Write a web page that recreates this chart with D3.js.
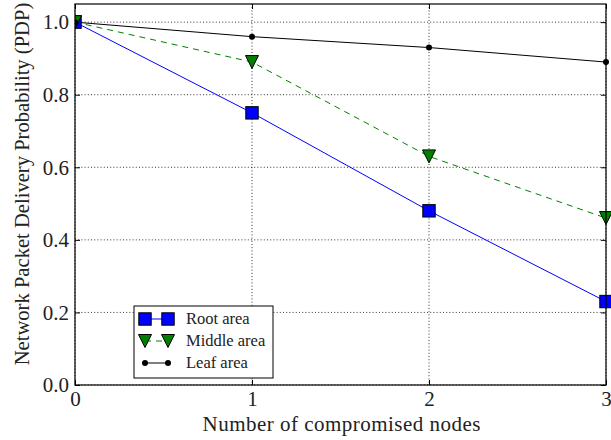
<!DOCTYPE html>
<html>
<head>
<meta charset="utf-8">
<script src="https://cdn.jsdelivr.net/npm/d3@7"></script>
<style>
  html, body { margin: 0; padding: 0; background: #fff; }
  svg { display: block; }
  text { font-family: "Liberation Serif", "DejaVu Serif", serif; fill: #222; }
</style>
</head>
<body>
<svg id="chart" width="611" height="440"></svg>
<script>
// Number of compromised nodes on the x axis
const nodes = [0, 1, 2, 3];
// Network packet delivery probability per attack location
const rootArea   = [1.00, 0.75, 0.48, 0.23];
const middleArea = [1.00, 0.89, 0.63, 0.46];
const leafArea   = [1.00, 0.96, 0.93, 0.89];
const xTicks = [0, 1, 2, 3];
const yTicks = [0.0, 0.2, 0.4, 0.6, 0.8, 1.0];
const seriesNames = ["Root area", "Middle area", "Leaf area"];

const svg = d3.select("#chart");
const W = 611, H = 440;
const m = { left: 75, right: 5, top: 4, bottom: 55 };
const x = d3.scaleLinear().domain([0, 3]).range([m.left, W - m.right]);
const y = d3.scaleLinear().domain([0, 1.05]).range([H - m.bottom, m.top]);

// clip region for the data marks
svg.append("defs").append("clipPath").attr("id", "plotclip")
  .append("rect").attr("x", m.left).attr("y", 0)
  .attr("width", W - m.left).attr("height", H - m.bottom);

// dotted grid
const grid = svg.append("g");
grid.selectAll("line.gx").data(xTicks).join("line")
  .attr("x1", d => x(d)).attr("x2", d => x(d))
  .attr("y1", y(1.05)).attr("y2", y(0))
  .attr("stroke", "#000").attr("stroke-width", 0.8).attr("stroke-dasharray", "1,2.2");
grid.selectAll("line.gy").data(yTicks).join("line")
  .attr("x1", x(0)).attr("x2", x(3))
  .attr("y1", d => y(d)).attr("y2", d => y(d))
  .attr("stroke", "#000").attr("stroke-width", 0.8).attr("stroke-dasharray", "1,2.2");

// axes with inward ticks on all four sides
const fontSize = 21;
const bottomAxis = d3.axisBottom(x).tickValues(xTicks).tickFormat(d3.format("d")).tickSizeInner(-5).tickSizeOuter(0).tickPadding(6);
const topAxis = d3.axisTop(x).tickValues(xTicks).tickFormat("").tickSizeInner(-5).tickSizeOuter(0);
const leftAxis = d3.axisLeft(y).tickValues(yTicks).tickFormat(d3.format(".1f")).tickSizeInner(-5).tickSizeOuter(0).tickPadding(6);
const rightAxis = d3.axisRight(y).tickValues(yTicks).tickFormat("").tickSizeInner(-5).tickSizeOuter(0);

function styleAxis(g) {
  g.select(".domain").remove();
  g.selectAll(".tick line").attr("stroke", "#000").attr("stroke-width", 1);
  g.selectAll(".tick text").attr("font-size", fontSize).attr("fill", "#222")
    .attr("font-family", "Liberation Serif, DejaVu Serif, serif");
}
svg.append("g").attr("transform", `translate(0,${y(0)})`).call(bottomAxis).call(styleAxis);
svg.append("g").attr("transform", `translate(0,${y(1.05)})`).call(topAxis).call(styleAxis);
svg.append("g").attr("transform", `translate(${x(0)},0)`).call(leftAxis).call(styleAxis);
svg.append("g").attr("transform", `translate(${x(3)},0)`).call(rightAxis).call(styleAxis);

// series lines and markers
const plot = svg.append("g").attr("clip-path", "url(#plotclip)");
const line = d3.line().x((d, i) => x(nodes[i])).y(d => y(d));

function drawMarker(g, kind, cx, cy) {
  if (kind === "square") {
    const h = 6.2;
    g.append("rect").attr("x", cx - h).attr("y", cy - h).attr("width", 2 * h).attr("height", 2 * h)
      .attr("fill", "#0000ff").attr("stroke", "#000").attr("stroke-width", 1);
  } else if (kind === "triangle") {
    const hw = 6.5, hh = 6.5;
    g.append("path").attr("d", `M${cx - hw},${cy - hh}L${cx + hw},${cy - hh}L${cx},${cy + hh}Z`)
      .attr("fill", "#008000").attr("stroke", "#000").attr("stroke-width", 1);
  } else {
    g.append("circle").attr("cx", cx).attr("cy", cy).attr("r", 3).attr("fill", "#000");
  }
}

const series = [
  { name: seriesNames[0], values: rootArea, color: "#0000ff", dash: null, marker: "square" },
  { name: seriesNames[1], values: middleArea, color: "#008000", dash: "6,5", marker: "triangle" },
  { name: seriesNames[2], values: leafArea, color: "#000", dash: null, marker: "circle" }
];

series.forEach(s => {
  plot.append("path").datum(s.values).attr("d", line)
    .attr("fill", "none").attr("stroke", s.color).attr("stroke-width", 1)
    .attr("stroke-dasharray", s.dash);
});
series.forEach(s => {
  s.values.forEach((v, i) => drawMarker(plot, s.marker, x(nodes[i]), y(v)));
});

// frame
svg.append("rect").attr("x", x(0)).attr("y", y(1.05))
  .attr("width", x(3) - x(0)).attr("height", y(0) - y(1.05))
  .attr("fill", "none").attr("stroke", "#000").attr("stroke-width", 1.2);

// axis titles
svg.append("text").attr("x", (x(0) + x(3)) / 2 + 1).attr("y", 431)
  .attr("text-anchor", "middle").attr("font-size", fontSize)
  .attr("textLength", 278).attr("lengthAdjust", "spacing")
  .text("Number of compromised nodes");
svg.append("text").attr("transform", "translate(29,184) rotate(-90)")
  .attr("text-anchor", "middle").attr("font-size", 20.6)
  .text("Network Packet Delivery Probability (PDP)");

// legend
const lg = svg.append("g");
lg.append("rect").attr("x", 134).attr("y", 306).attr("width", 139).attr("height", 72)
  .attr("fill", "#fff").attr("stroke", "#000").attr("stroke-width", 1);
const rowY = [319, 341, 363];
series.forEach((s, i) => {
  const yy = rowY[i];
  lg.append("line").attr("x1", 145).attr("x2", 168).attr("y1", yy).attr("y2", yy)
    .attr("stroke", s.color).attr("stroke-width", 1).attr("stroke-dasharray", s.dash);
  drawMarker(lg, s.marker, 145, yy);
  drawMarker(lg, s.marker, 168, yy);
  lg.append("text").attr("x", 186).attr("y", yy + 5).attr("font-size", 16.5).text(s.name);
});
</script>
</body>
</html>
